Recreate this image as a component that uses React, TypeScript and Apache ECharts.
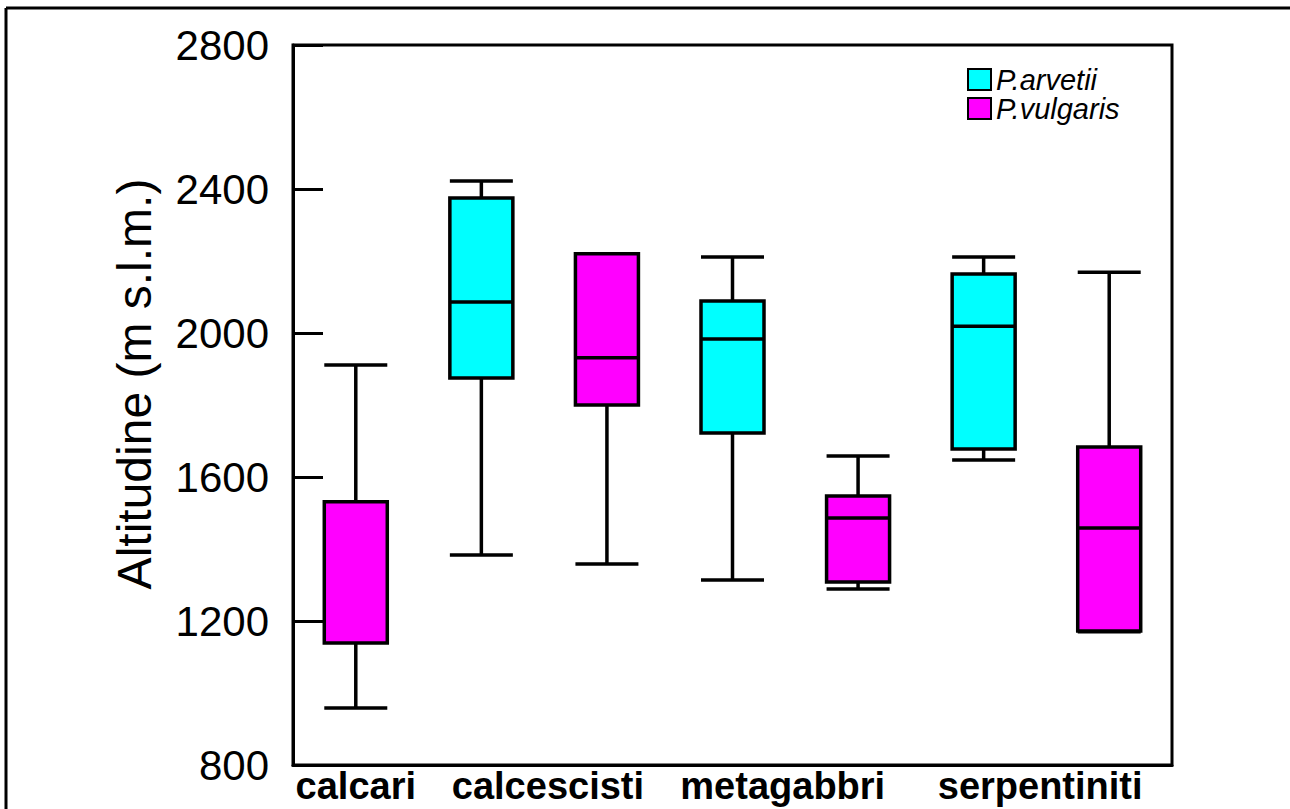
import React, { useEffect, useRef } from "react";
import * as echarts from "echarts";

// Box slots (one box per slot, left to right)
const slotIds = [
  "calcari · P.vulgaris",
  "calcescisti · P.arvetii",
  "calcescisti · P.vulgaris",
  "metagabbri · P.arvetii",
  "metagabbri · P.vulgaris",
  "serpentiniti · P.arvetii",
  "serpentiniti · P.vulgaris",
];
const slotSpecies = ["P.vulgaris", "P.arvetii", "P.vulgaris", "P.arvetii", "P.vulgaris", "P.arvetii", "P.vulgaris"];

// Box statistics (m s.l.m.)
const whiskerLow = [958, 1383, 1358, 1314, 1289, 1647, 1170];
const quart1 = [1139, 1875, 1800, 1722, 1308, 1678, 1172];
const medians = [1531, 2086, 1931, 1983, 1486, 2019, 1458];
const quart3 = [1531, 2375, 2220, 2089, 1547, 2164, 1683];
const whiskerHigh = [1911, 2422, 2220, 2211, 1658, 2211, 2169];

// Group labels on the x axis and their positions (in slot units, 1 = first slot)
const groupLabels = ["calcari", "calcescisti", "metagabbri", "serpentiniti"];
const groupPositions = [1, 2.53, 4.4, 6.45];

const yTicks = [800, 1200, 1600, 2000, 2400, 2800];

const speciesNames = ["P.arvetii", "P.vulgaris"];
const speciesColors = ["#00FFFF", "#FF00FF"];

export default function App() {
  const ref = useRef<HTMLDivElement>(null);

  useEffect(() => {
    document.body.style.margin = "0";
    const chart = echarts.init(ref.current!, null, { renderer: "svg" });
    const colorOf = (sp: string) => speciesColors[speciesNames.indexOf(sp)];

    const boxData = slotIds.map((_, i) => ({
      value: [whiskerLow[i], quart1[i], medians[i], quart3[i], whiskerHigh[i]],
      itemStyle: { color: colorOf(slotSpecies[i]), borderColor: "#000", borderWidth: 3.5 },
    }));

    const labelMap: Record<string, string> = {};
    groupPositions.forEach((p, i) => (labelMap[String(p)] = groupLabels[i]));

    chart.setOption({
      animation: false,
      backgroundColor: "#fff",
      grid: {
        left: 293,
        right: 118,
        top: 45,
        bottom: 44,
        show: true,
        borderColor: "#000",
        borderWidth: 3,
        containLabel: false,
      },
      legend: {
        data: speciesNames,
        orient: "vertical",
        left: 962,
        top: 60,
        icon: "rect",
        itemWidth: 23,
        itemHeight: 21,
        itemGap: 0,
        textStyle: {
          fontFamily: "Liberation Sans, Arial, sans-serif",
          fontStyle: "italic",
          fontSize: 29,
          lineHeight: 26,
          color: "#000",
        },
      },
      xAxis: [
        {
          type: "category",
          data: slotIds,
          boundaryGap: true,
          axisLine: { show: true, lineStyle: { color: "#000", width: 3 } },
          axisTick: { show: false },
          axisLabel: { show: false },
          splitLine: { show: false },
        },
        {
          type: "value",
          min: 0.5,
          max: 7.5,
          position: "bottom",
          axisLine: { show: false },
          axisTick: { show: false },
          splitLine: { show: false },
          axisLabel: {
            customValues: groupPositions,
            formatter: (v: number) => labelMap[String(v)] ?? "",
            fontFamily: "Liberation Sans, Arial, sans-serif",
            fontWeight: "bold",
            fontSize: 38,
            lineHeight: 38,
            color: "#000",
            margin: 2,
          },
        },
      ],
      yAxis: {
        type: "value",
        min: yTicks[0],
        max: yTicks[yTicks.length - 1],
        interval: 400,
        name: "Altitudine (m s.l.m.)",
        nameLocation: "middle",
        nameGap: 135,
        nameTextStyle: {
          fontFamily: "Liberation Sans, Arial, sans-serif",
          fontSize: 48,
          color: "#000",
          padding: [0, 0, 0, 42],
        },
        axisLine: { show: true, lineStyle: { color: "#000", width: 3 } },
        axisTick: { show: true, inside: true, length: 30, lineStyle: { color: "#000", width: 3 } },
        splitLine: { show: false },
        axisLabel: {
          formatter: (v: number) => String(v),
          fontFamily: "Liberation Sans, Arial, sans-serif",
          fontSize: 42,
          color: "#000",
          margin: 24,
        },
      },
      series: [
        {
          name: "boxes",
          type: "boxplot",
          xAxisIndex: 0,
          data: boxData,
          boxWidth: [63, 63],
          itemStyle: { borderColor: "#000", borderWidth: 3.5 },
        },
        ...speciesNames.map((n, i) => ({
          name: n,
          type: "bar",
          xAxisIndex: 0,
          data: [],
          itemStyle: { color: speciesColors[i], borderColor: "#000", borderWidth: 3 },
        })),
      ],
      graphic: [
        { type: "line", shape: { x1: 6, y1: 8, x2: 1290, y2: 8 }, style: { stroke: "#000", lineWidth: 3 } },
        { type: "line", shape: { x1: 6, y1: 8, x2: 6, y2: 809 }, style: { stroke: "#000", lineWidth: 3 } },
      ],
    });
    return () => chart.dispose();
  }, []);

  return (
    <div
      ref={ref}
      style={{ position: "absolute", left: 0, top: 0, width: 1290, height: 809 }}
    />
  );
}
